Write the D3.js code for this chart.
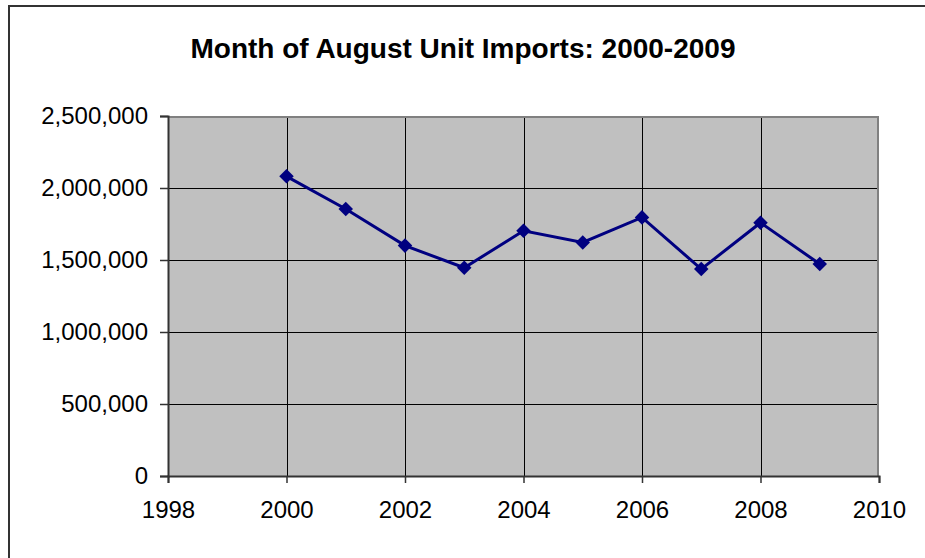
<!DOCTYPE html>
<html>
<head>
<meta charset="utf-8">
<script src="https://cdn.jsdelivr.net/npm/d3@7"></script>
<style>
  html, body { margin: 0; background: #fff; overflow: hidden; }
  svg { display: block; }
  svg text { font-family: "Liberation Sans", Arial, sans-serif; fill: #000; }
</style>
</head>
<body>
<div id="chart"></div>
<script>
// chart data
var years = [2000, 2001, 2002, 2003, 2004, 2005, 2006, 2007, 2008, 2009];
var imports = [2081000, 1854000, 1600000, 1446000, 1703000, 1622000, 1796000, 1437000, 1759000, 1472000];
var xTicks = [1998, 2000, 2002, 2004, 2006, 2008, 2010];
var yTicks = [0, 500000, 1000000, 1500000, 2000000, 2500000];
var title = "Month of August Unit Imports: 2000-2009";

var W = 925, H = 558;
var plot = {left: 168, top: 116, right: 879, bottom: 476};

var svg = d3.select("#chart").append("svg")
    .attr("width", W)
    .attr("height", H);

// outer chart border: only left and top edges are inside the picture
svg.append("path")
    .attr("d", "M9," + H + "V6H" + W)
    .attr("fill", "none")
    .attr("stroke", "#333").attr("stroke-width", 2);

svg.append("text")
    .attr("x", 463).attr("y", 58)
    .attr("text-anchor", "middle")
    .style("font-size", "28px")
    .style("font-weight", "bold")
    .text(title);

var x = d3.scaleLinear().domain([1998, 2010]).range([plot.left, plot.right]);
var y = d3.scaleLinear().domain([0, 2500000]).range([plot.bottom, plot.top]);

// plot area
svg.append("rect")
    .attr("x", plot.left).attr("y", plot.top)
    .attr("width", plot.right - plot.left)
    .attr("height", plot.bottom - plot.top)
    .attr("fill", "#c0c0c0");

// gridlines
svg.append("g").selectAll("line")
    .data(yTicks.filter(function(d){ return d > 0 && d < 2500000; }))
    .enter().append("line")
    .attr("x1", plot.left).attr("x2", plot.right)
    .attr("y1", function(d){ return Math.round(y(d)) + 0.5; })
    .attr("y2", function(d){ return Math.round(y(d)) + 0.5; })
    .attr("stroke", "#000").attr("stroke-width", 1);
svg.append("g").selectAll("line")
    .data(xTicks.filter(function(d){ return d > 1998 && d < 2010; }))
    .enter().append("line")
    .attr("x1", function(d){ return Math.round(x(d)) + 0.5; })
    .attr("x2", function(d){ return Math.round(x(d)) + 0.5; })
    .attr("y1", plot.top).attr("y2", plot.bottom)
    .attr("stroke", "#000").attr("stroke-width", 1);

// gray top and right border
svg.append("path")
    .attr("d", "M" + plot.left + "," + (plot.top + 1) + "H" + (plot.right - 1) + "V" + plot.bottom)
    .attr("fill", "none")
    .attr("stroke", "#808080").attr("stroke-width", 2);

// y axis
var yAxis = d3.axisLeft(y)
    .tickValues(yTicks)
    .tickSize(8)
    .tickPadding(12)
    .tickFormat(d3.format(","));
var gy = svg.append("g")
    .attr("transform", "translate(" + plot.left + ",0)")
    .call(yAxis);
gy.select(".domain").attr("stroke", "#333").attr("stroke-width", 2);
gy.selectAll(".tick line").attr("stroke", "#333").attr("stroke-width", 1.5);
gy.selectAll(".tick text")
    .style("font-size", "24px")
    .style("font-family", "'Liberation Sans', Arial, sans-serif")
    .attr("fill", "#000");

// x axis
var xAxis = d3.axisBottom(x)
    .tickValues(xTicks)
    .tickSize(7)
    .tickPadding(18)
    .tickFormat(d3.format("d"));
var gx = svg.append("g")
    .attr("transform", "translate(0," + plot.bottom + ")")
    .call(xAxis);
gx.select(".domain").attr("stroke", "#333").attr("stroke-width", 2);
gx.selectAll(".tick line").attr("stroke", "#333").attr("stroke-width", 1.5);
gx.selectAll(".tick text")
    .style("font-size", "24px")
    .style("font-family", "'Liberation Sans', Arial, sans-serif")
    .attr("fill", "#000");

// series line
var line = d3.line()
    .x(function(d, i){ return x(years[i]); })
    .y(function(d){ return y(d); });
svg.append("path")
    .datum(imports)
    .attr("d", line)
    .attr("fill", "none")
    .attr("stroke", "#000080")
    .attr("stroke-width", 3);

// diamond markers
var diamond = d3.symbol().type(d3.symbolDiamond2).size(135);
svg.append("g").selectAll("path")
    .data(imports)
    .enter().append("path")
    .attr("d", diamond)
    .attr("transform", function(d, i){ return "translate(" + x(years[i]) + "," + y(d) + ")"; })
    .attr("fill", "#000080");
</script>
</body>
</html>
